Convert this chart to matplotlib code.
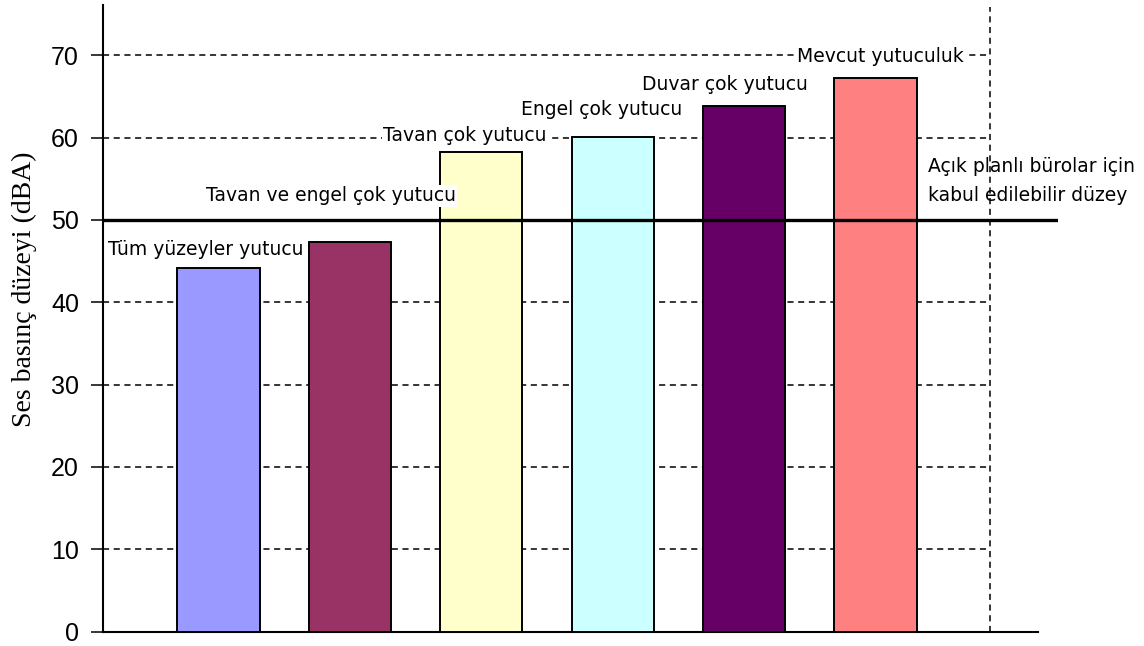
import matplotlib
matplotlib.use("Agg")
import matplotlib.pyplot as plt
from matplotlib import font_manager

# Sound pressure level for each acoustic treatment scenario
categories = ["Tüm yüzeyler yutucu", "Tavan ve engel çok yutucu", "Tavan çok yutucu",
              "Engel çok yutucu", "Duvar çok yutucu", "Mevcut yutuculuk"]
levels = [44.2, 47.3, 58.2, 60.1, 63.8, 67.2]
colors = ["#9999FF", "#993366", "#FFFFCC", "#CCFFFF", "#660066", "#FF8080"]
yticks = [0, 10, 20, 30, 40, 50, 60, 70]
limit_level = 50
limit_lines = ["Açık planlı bürolar için", "kabul edilebilir düzey"]
ylabel = "Ses basınç düzeyi (dBA)"

# label anchor positions (x in category units, y in dBA)
label_pos = [(-0.096, 46.35), (0.856, 52.9), (1.876, 60.3),
             (2.918, 63.4), (3.851, 66.5), (5.034, 69.85)]

def pick(names):
    avail = {f.name for f in font_manager.fontManager.ttflist}
    for n in names:
        if n in avail:
            return n
    return "DejaVu Sans"

narrow = pick(["Liberation Sans Narrow", "DejaVu Sans Condensed", "Liberation Sans"])
serif = pick(["Liberation Serif", "DejaVu Serif"])
label_font = "DejaVu Sans"

fig = plt.figure(figsize=(11.44, 6.46), dpi=100)
W, H = 1144, 646
x_left, x_right = 102.7, 1058
y_bottom, y_top = 631.5, 5
ax = fig.add_axes([x_left / W, 1 - y_bottom / H, (x_right - x_left) / W, (y_bottom - y_top) / H])

xmin, xmax = -0.881, 6.389
ymax = 76.1
ax.set_xlim(xmin, xmax)
ax.set_ylim(0, ymax)
x_frame = 5.871

x = list(range(len(levels)))
ax.bar(x, levels, width=0.625, color=colors, edgecolor="black", linewidth=1.4, zorder=3)

# dashed grid up to the right frame line
ax.hlines(yticks, xmin, x_frame, colors="black", linewidth=1.1,
          linestyles=(0, (4, 3)), zorder=1)
ax.vlines(x_frame, 0, 75.8, colors="black", linewidth=1.1,
          linestyles=(0, (4, 3)), zorder=1)

# acceptable level line
ax.axhline(limit_level, color="black", linewidth=2.4, zorder=4)

for name, (lx, ly) in zip(categories, label_pos):
    ax.text(lx, ly, name, ha="center", va="center", fontsize=13.5, family=label_font,
            zorder=5, bbox=dict(facecolor="white", edgecolor="none", pad=1.0))

ax.text(5.40, 56.5, limit_lines[0], ha="left", va="center",
        fontsize=13.5, family=label_font, zorder=5)
ax.text(5.40, 53.0, limit_lines[1], ha="left", va="center",
        fontsize=13.5, family=label_font, zorder=5)

for s in ["top", "right"]:
    ax.spines[s].set_visible(False)
ax.spines["left"].set_linewidth(1.5)
ax.spines["bottom"].set_linewidth(1.5)
ax.spines["bottom"].set_bounds(xmin, 6.237)

ax.set_yticks(yticks)
ax.set_yticklabels([str(t) for t in yticks], family=narrow, fontsize=18)
ax.tick_params(axis="y", direction="out", length=9, width=1.1, pad=8)
ax.set_xticks([])

fig.text(24 / W, 1 - 289 / H, ylabel, rotation=90, ha="center", va="center",
         family=serif, fontsize=20)

fig.savefig("out.png", dpi=100)
